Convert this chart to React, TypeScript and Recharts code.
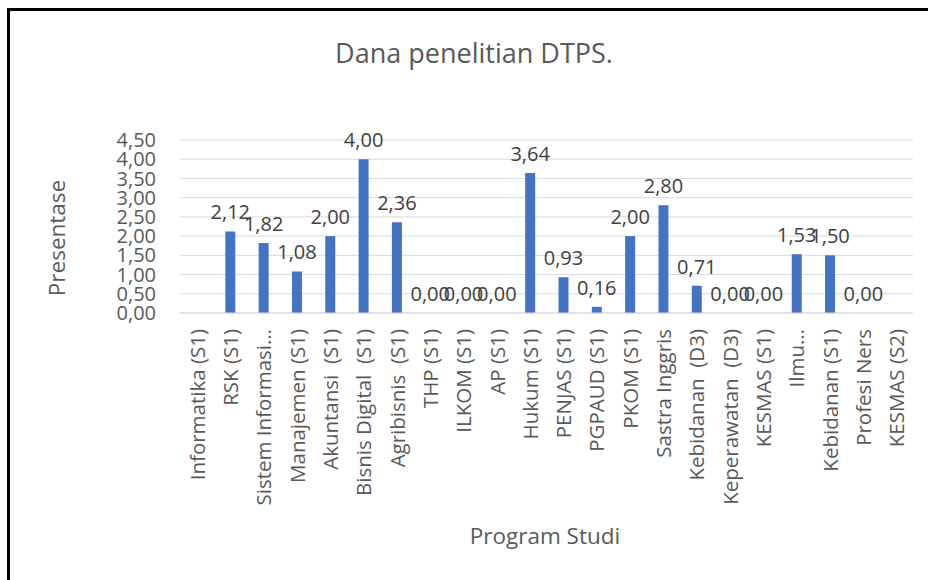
import {BarChart, Bar, XAxis, YAxis, CartesianGrid, LabelList} from "recharts";

const programs = [
  "Informatika (S1)",
  "RSK (S1)",
  "Sistem Informasi…",
  "Manajemen (S1)",
  "Akuntansi  (S1)",
  "Bisnis Digital  (S1)",
  "Agribisnis  (S1)",
  "THP (S1)",
  "ILKOM (S1)",
  "AP (S1)",
  "Hukum (S1)",
  "PENJAS (S1)",
  "PGPAUD (S1)",
  "PKOM (S1)",
  "Sastra Inggris",
  "Kebidanan  (D3)",
  "Keperawatan  (D3)",
  "KESMAS (S1)",
  "Ilmu…",
  "Kebidanan (S1)",
  "Profesi Ners",
  "KESMAS (S2)",
];

const presentase: (number | null)[] = [
  null, 2.12, 1.82, 1.08, 2.0, 4.0, 2.36, 0, 0, 0, 3.64, 0.93, 0.16, 2.0,
  2.8, 0.71, 0, 0, 1.53, 1.5, 0, null,
];

const yTicks = [0, 0.5, 1, 1.5, 2, 2.5, 3, 3.5, 4, 4.5];

const data = programs.map((name, i) => ({name, value: presentase[i]}));

const FONT = "'Open Sans', 'Noto Sans', sans-serif";
const TEXT = "#595959";

function fmt(v: number) {
  return v.toFixed(2).replace(".", ",");
}

function XTick({x, y, payload}: any) {
  const ty = y + 16;
  return (
    <text
      x={x}
      y={ty}
      transform={`rotate(-90, ${x}, ${ty})`}
      textAnchor="end"
      dominantBaseline="central"
      fill={TEXT}
      fontSize={20.5}
      fontFamily={FONT}
      style={{whiteSpace: "pre"}}
    >
      {payload.value}
    </text>
  );
}

// Excel-like "outside end" label, also drawn for zero-height bars
function BarValue({x, y, width, value}: any) {
  if (value == null || value === "") return null;
  return (
    <text
      x={Number(x) + Number(width) / 2}
      y={Number(y) - 12}
      textAnchor="middle"
      fill="#404040"
      fontSize={20}
      fontFamily={FONT}
    >
      {fmt(Number(value))}
    </text>
  );
}

export default function App() {
  return (
    <div
      style={{
        position: "absolute",
        left: 0,
        top: 0,
        width: 928,
        height: 580,
        background: "#fff",
        fontFamily: FONT,
        overflow: "hidden",
      }}
    >
      <div
        style={{
          position: "absolute",
          left: 7,
          top: 8,
          right: 0,
          bottom: 0,
          borderTop: "3px solid #000",
          borderLeft: "3px solid #000",
        }}
      />
      <BarChart
        width={928}
        height={580}
        data={data}
        margin={{top: 140, right: 15, bottom: 67, left: 0}}
        style={{position: "absolute", left: 0, top: 0}}
      >
        <CartesianGrid vertical={false} stroke="#d9d9d9" />
        <XAxis
          dataKey="name"
          interval={0}
          height={200}
          tickLine={false}
          tickSize={0}
          tickMargin={0}
          axisLine={{stroke: "#d9d9d9"}}
          tick={<XTick />}
        />
        <YAxis
          width={180}
          domain={[0, 4.5]}
          ticks={yTicks}
          interval={0}
          axisLine={false}
          tickLine={false}
          tickSize={0}
          tickMargin={24}
          tickFormatter={fmt}
          tick={{fill: TEXT, fontSize: 20, fontFamily: FONT}}
        />
        <Bar
          dataKey="value"
          fill="#4472C4"
          barSize={10}
          minPointSize={0.01}
          isAnimationActive={false}
        >
          <LabelList dataKey="value" content={<BarValue />} />
        </Bar>
      </BarChart>
      <div
        style={{
          position: "absolute",
          left: 274,
          top: 37,
          width: 400,
          textAlign: "center",
          fontSize: 27,
          lineHeight: "32px",
          color: TEXT,
        }}
      >
        Dana penelitian DTPS.
      </div>
      <div
        style={{
          position: "absolute",
          left: 395,
          top: 521,
          width: 300,
          textAlign: "center",
          fontSize: 22.5,
          lineHeight: "30px",
          color: TEXT,
        }}
      >
        Program Studi
      </div>
      <div
        style={{
          position: "absolute",
          left: -43,
          top: 223,
          width: 200,
          height: 30,
          textAlign: "center",
          fontSize: 22.5,
          lineHeight: "30px",
          color: TEXT,
          transform: "rotate(-90deg)",
        }}
      >
        Presentase
      </div>
    </div>
  );
}
